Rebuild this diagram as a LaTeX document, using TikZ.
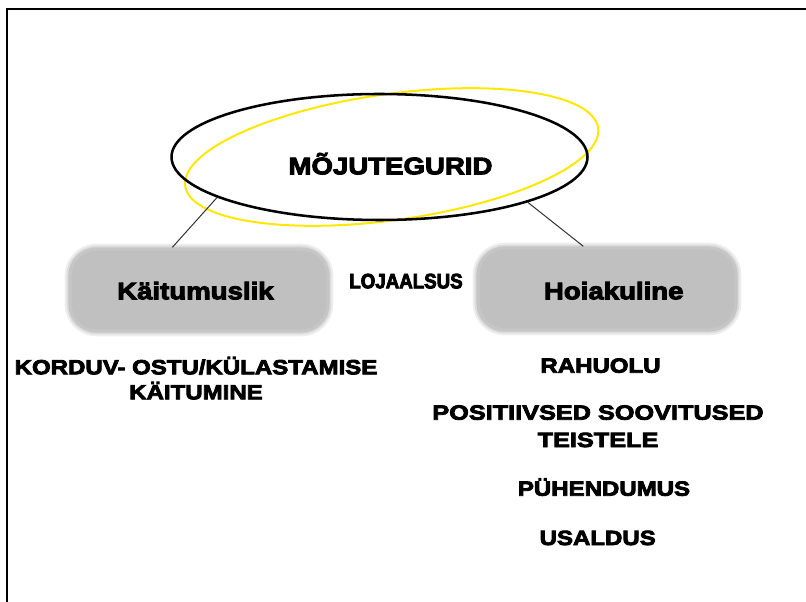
\documentclass[tikz,border=0pt]{standalone}
\usepackage{fontspec}
\setmainfont{Liberation Sans}
\newfontfamily\fbig{Liberation Sans Bold}[FakeBold=4,FakeStretch=1.15]
\newfontfamily\fitem{Liberation Sans Bold}[FakeBold=4,FakeStretch=1.17]
\newfontfamily\fpos{Liberation Sans Bold}[FakeBold=4,FakeStretch=1.23]
\newfontfamily\fnar{Liberation Sans Bold}[FakeBold=4,FakeStretch=0.9]
\usetikzlibrary{shapes.geometric}
\definecolor{boxgrey}{HTML}{C0C0C0}
\definecolor{boxedge}{HTML}{C6C6C6}
\definecolor{boxhalo}{HTML}{DCDCDC}
\definecolor{boxhalo2}{HTML}{EEEEEE}
\definecolor{ylw}{HTML}{FFE800}
\definecolor{linkc}{HTML}{333333}
\begin{document}
\begin{tikzpicture}[x=0.75pt,y=-0.75pt,
  bigtext/.style={font=\fbig\fontsize{18}{21}\selectfont, inner sep=0pt, anchor=base},
  itemtext/.style={font=\fitem\fontsize{15.4}{20}\selectfont, inner sep=0pt, align=center, anchor=base},
  pill/.style={rounded corners=20pt, fill=boxgrey, draw=boxedge, line width=2.5pt,
    preaction={draw=boxhalo2, line width=8pt},
    preaction={draw=boxhalo, line width=5pt},
    minimum width=193.5pt, minimum height=61.5pt, inner sep=0pt},
  link/.style={draw=linkc, line width=0.75pt},
  frameline/.style={draw=black, line width=1.6pt}]
\useasboundingbox (0,0) rectangle (806,602);
% frame (top and left edges)
\coordinate (fbl) at (7,602);
\coordinate (ftl) at (7,9);
\coordinate (ftr) at (806,9);
\draw[frameline] (fbl) -- (ftl) -- (ftr);

% boxes
\node[pill] (kb) at (199,290) {};
\node[pill] (hb) at (607,289) {};

% ellipses
\draw[ylw, line width=1.5pt, rotate around={8:(391.7,157)}] (391.7,157) ellipse [x radius=208.5, y radius=63];
\node[ellipse, draw=black, line width=1.9pt, minimum width=312pt, minimum height=94.5pt, inner sep=0pt] (mo) at (379.5,157) {};
\node[bigtext] (motxt) at (390.5,174.3) {MÕJUTEGURID};

% connectors
\draw[link] (mo.194.5) -- (kb.122);
\draw[link] (mo.343.3) -- (hb.119.6);

% box texts
\node[bigtext] (kt) at (195.4,299.3) {Käitumuslik};
\node[bigtext] (ht) at (613.7,299.3) {Hoiakuline};
\node[font=\fnar\fontsize{15.6}{18}\selectfont, inner sep=0pt, anchor=base] (loj) at (406,288.3) {LOJAALSUS};

% lists (anchor base = baseline of the last line)
\node[itemtext, font=\fitem\fontsize{15.4}{18.75}\selectfont] (kord) at (196,399.3) {KORDUV- OSTU/KÜLASTAMISE\\KÄITUMINE};
\node[itemtext] (rah) at (600.5,372.7) {RAHUOLU};
\node[itemtext, font=\fpos\fontsize{15.4}{20.5}\selectfont] (pos) at (598,447) {POSITIIVSED SOOVITUSED\\TEISTELE};
\node[itemtext] (puh) at (604,495.7) {PÜHENDUMUS};
\node[itemtext] (usa) at (597.7,545) {USALDUS};
\end{tikzpicture}
\end{document}
